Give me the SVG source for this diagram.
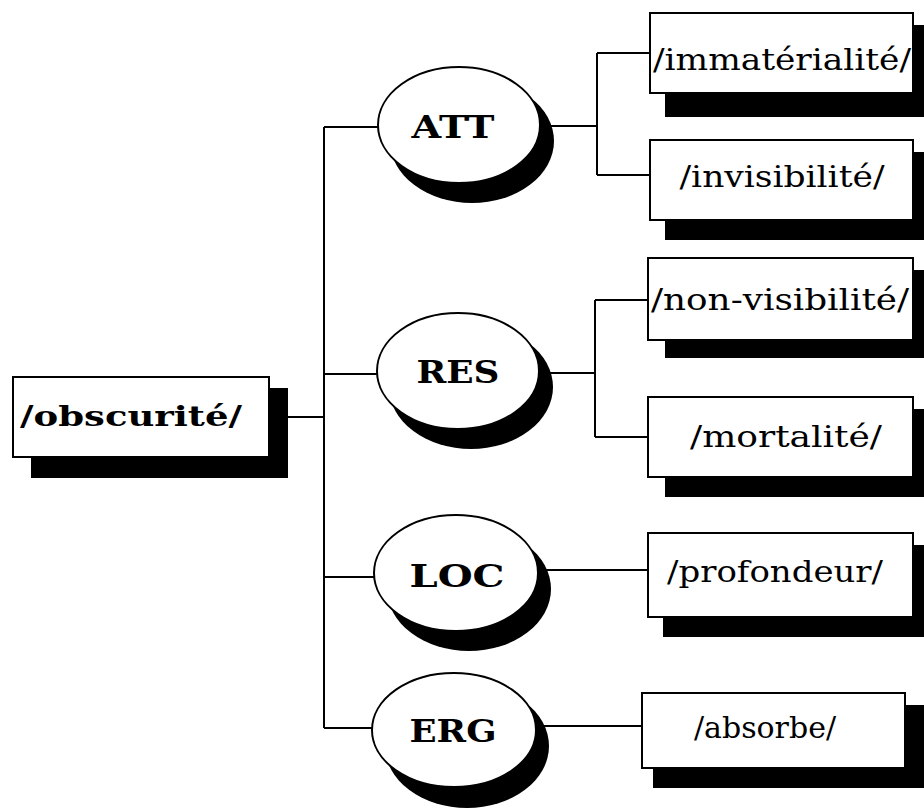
<svg xmlns="http://www.w3.org/2000/svg" width="924" height="810" viewBox="0 0 924 810">
<style>
.box{fill:#fff;stroke:#000;stroke-width:2}
.sh{fill:#000}
.ell{fill:#fff;stroke:#000;stroke-width:2}
.ln{fill:none;stroke:#000;stroke-width:2}
.lbl{font-family:"DejaVu Serif","Liberation Serif",serif;font-size:30px;fill:#000;text-anchor:middle}
.elbl{font-family:"DejaVu Serif","Liberation Serif",serif;font-size:31px;font-weight:bold;fill:#000;text-anchor:middle}
.mlbl{font-family:"DejaVu Serif","Liberation Serif",serif;font-size:28px;font-weight:bold;fill:#000;text-anchor:middle}
</style>
<rect width="924" height="810" fill="#fff"/>
<g id="connectors">
<path class="ln" d="M288 417 H324 M324 127 V728 M324 127 H378 M324 374 H377 M324 577 H374 M324 728 H372"/>
<path class="ln" d="M540 126 H597 M597 53 V175 M597 53 H650 M597 175 H650"/>
<path class="ln" d="M540 373 H595 M595 300 V437 M595 300 H648 M595 437 H648"/>
<path class="ln" d="M538 570 H648"/>
<path class="ln" d="M536 726 H642"/>
</g>
<g id="obscurite">
<rect class="sh" x="31" y="388" width="257" height="90"/>
<rect class="box" x="13" y="377" width="256" height="80"/>
<text class="mlbl" x="131" y="426" textLength="222" lengthAdjust="spacingAndGlyphs">/obscurité/</text>
</g>
<g id="ATT">
<ellipse class="sh" cx="472" cy="141" rx="82" ry="62"/>
<ellipse class="ell" cx="459" cy="125" rx="81" ry="58"/>
<text class="elbl" x="453" y="138" textLength="83" lengthAdjust="spacingAndGlyphs">ATT</text>
</g>
<g id="RES">
<ellipse class="sh" cx="471" cy="387" rx="82" ry="62"/>
<ellipse class="ell" cx="458" cy="371" rx="81" ry="58"/>
<text class="elbl" x="458" y="383" textLength="83" lengthAdjust="spacingAndGlyphs">RES</text>
</g>
<g id="LOC">
<ellipse class="sh" cx="469" cy="589" rx="82" ry="62"/>
<ellipse class="ell" cx="456" cy="573" rx="82" ry="58"/>
<text class="elbl" x="457" y="587" textLength="95" lengthAdjust="spacingAndGlyphs">LOC</text>
</g>
<g id="ERG">
<ellipse class="sh" cx="467" cy="746" rx="82" ry="62"/>
<ellipse class="ell" cx="454" cy="730" rx="82" ry="57"/>
<text class="elbl" x="453" y="742" textLength="87" lengthAdjust="spacingAndGlyphs">ERG</text>
</g>
<g id="immaterialite">
<rect class="sh" x="665" y="25" width="259" height="92"/>
<rect class="box" x="650" y="13" width="263" height="80"/>
<text class="lbl" x="782" y="70" textLength="258" lengthAdjust="spacingAndGlyphs">/immatérialité/</text>
</g>
<g id="invisibilite">
<rect class="sh" x="665" y="152" width="259" height="88"/>
<rect class="box" x="650" y="140" width="263" height="80"/>
<text class="lbl" x="782" y="187" textLength="205" lengthAdjust="spacingAndGlyphs">/invisibilité/</text>
</g>
<g id="non-visibilite">
<rect class="sh" x="665" y="270" width="259" height="88"/>
<rect class="box" x="648" y="258" width="265" height="82"/>
<text class="lbl" x="780" y="310" textLength="258" lengthAdjust="spacingAndGlyphs">/non-visibilité/</text>
</g>
<g id="mortalite">
<rect class="sh" x="665" y="409" width="259" height="88"/>
<rect class="box" x="648" y="397" width="265" height="80"/>
<text class="lbl" x="786" y="447" textLength="192" lengthAdjust="spacingAndGlyphs">/mortalité/</text>
</g>
<g id="profondeur">
<rect class="sh" x="663" y="545" width="261" height="92"/>
<rect class="box" x="648" y="533" width="265" height="84"/>
<text class="lbl" x="775" y="582" textLength="216" lengthAdjust="spacingAndGlyphs">/profondeur/</text>
</g>
<g id="absorbe">
<rect class="sh" x="653" y="705" width="271" height="83"/>
<rect class="box" x="642" y="693" width="263" height="75"/>
<text class="lbl" x="765" y="738">/absorbe/</text>
</g>
</svg>
